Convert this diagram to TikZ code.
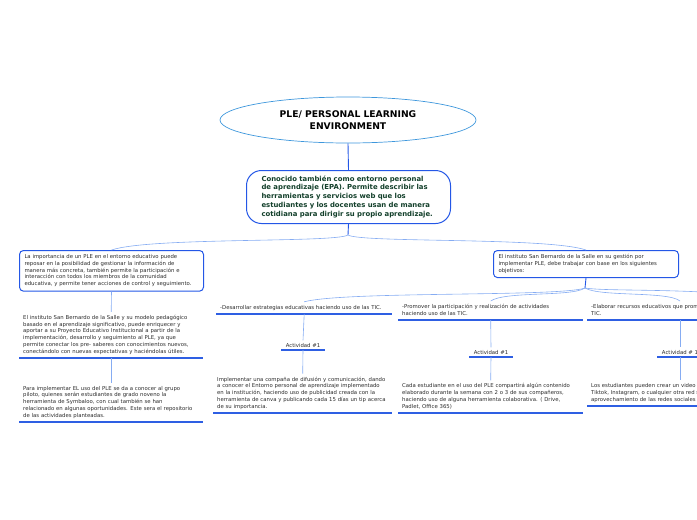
\documentclass[tikz,border=0pt]{standalone}
\usepackage{fontspec}
\setmainfont{DejaVu Sans}
\usetikzlibrary{shapes.geometric}
\definecolor{connc}{HTML}{86ACF2}
\definecolor{ulc}{HTML}{2E5FE3}
\definecolor{boxc}{HTML}{2457E6}
\definecolor{ellc}{HTML}{3E97DC}
\definecolor{txtc}{HTML}{2B2B2B}
\definecolor{gtxt}{HTML}{123F2A}
\newcommand\mylines[1]{\begin{tabular}{@{}l@{}}#1\end{tabular}}
\begin{document}
\begin{tikzpicture}[x=1pt,y=-1pt,
  conn/.style={draw=connc, line width=0.6pt},
  stem/.style={draw=boxc, line width=0.9pt},
  ul/.style={draw=ulc, line width=1.5pt},
  small/.style={font=\fontsize{5.35}{6.8}\selectfont, text=txtc},
  box/.style={small, draw=boxc, line width=1pt, rounded corners=4pt, align=left, inner xsep=5pt, anchor=north west},
  utext/.style={small, align=left, inner xsep=4pt, inner ysep=2.5pt, anchor=south west},
  act/.style={small, align=center, inner xsep=0pt, inner ysep=2.5pt, anchor=south}
]
\useasboundingbox (0,0) rectangle (697,520);
\clip (0,0) rectangle (697,520);

% title
\node[ellipse, draw=ellc, line width=0.7pt, minimum width=256pt, minimum height=46pt,
      font=\bfseries\fontsize{9.2}{12}\selectfont, align=center, text=black] (t) at (348,120)
  {PLE/ PERSONAL LEARNING\\ENVIRONMENT};

% central box
\node[draw=boxc, line width=1pt, rounded corners=15pt, anchor=north west,
      minimum width=204pt, minimum height=53pt, inner xsep=15pt, text width=174pt,
      align=left, font=\bfseries\fontsize{6.9}{8.8}\selectfont, text=gtxt] (c) at (246,170)
  {\mylines{Conocido también como entorno personal\\de aprendizaje (EPA). Permite describir las\\herramientas y servicios web que los\\estudiantes y los docentes usan de manera\\cotidiana para dirigir su propio aprendizaje.}};

\draw[stem] (t.south) -- (c.north);
\coordinate (cj) at (348,235);
\draw[stem] (c.south) -- (cj);

% left branch
\node[box, minimum width=184pt, minimum height=38pt, text width=174pt] (l1) at (19,250)
  {\mylines{La importancia de un PLE en el entorno educativo puede\\reposar en la posibilidad de gestionar la información de\\manera más concreta, también permite la participación e\\interacción con todos los miembros de la comunidad\\educativa, y permite tener acciones de control y seguimiento.}};
\node[utext, text width=176pt] (l2) at (19,358)
  {\mylines{El instituto San Bernardo de la Salle y su modelo pedagógico\\basado en el aprendizaje significativo, puede enriquecer y\\aportar a su Proyecto Educativo Institucional a partir de la\\implementación, desarrollo y seguimiento al PLE, ya que\\permite conectar los pre- saberes con conocimientos nuevos,\\conectándolo con nuevas expectativas y haciéndolas útiles.}};
\draw[ul] (l2.south west) -- (l2.south east);
\node[utext, text width=176pt] (l3) at (19,422)
  {\mylines{Para implementar EL uso del PLE se da a conocer al grupo\\piloto, quienes serán estudiantes de grado noveno la\\herramienta de Symbaloo, con cual también se han\\relacionado en algunas oportunidades. Este sera el repositorio\\de las actividades planteadas.}};
\draw[ul] (l3.south west) -- (l3.south east);

\draw[conn] (cj) .. controls (335,243) and (150,237) .. (l1.north);
\draw[conn] (l1.south) -- (l2.north);
\draw[conn] (l2.south) -- (l3.north);

% right branch
\node[box, minimum width=185pt, minimum height=26pt, text width=175pt] (r1) at (493,250)
  {\mylines{El instituto San Bernardo de la Salle en su gestión por\\implementar PLE, debe trabajar con base en los siguientes\\objetivos:}};
\draw[conn] (cj) .. controls (361,243) and (548,237) .. (r1.north);
\coordinate (rj) at (585,288);
\draw[stem] (r1.south) -- (rj);

% objective A
\node[utext, text width=168pt] (a1) at (216,314)
  {\mylines{-Desarrollar estrategias educativas haciendo uso de las TIC.}};
\draw[ul] (a1.south west) -- (a1.south east);
\node[act, minimum width=43pt] (a2) at (303,350) {Actividad \#1};
\draw[ul] (a2.south west) -- (a2.south east);
\node[utext, text width=171pt] (a3) at (213,413)
  {\mylines{Implementar una compaña de difusión y comunicación, dando\\a conocer el Entorno personal de aprendizaje implementado\\en la institución, haciendo uso de publicidad creada con la\\herramienta de canva y publicando cada 15 días un tip acerca\\de su importancia.}};
\draw[ul] (a3.south west) -- (a3.south east);
\draw[conn] (rj) .. controls (560,297) and (345,291) .. (a1.north);
\draw[conn] (a1.south) -- (a2.north);
\draw[conn] (a2.south) -- (a3.north);

% objective B
\node[utext, text width=177pt] (b1) at (398,320)
  {\mylines{-Promover la participación y realización de actividades\\haciendo uso de las TIC.}};
\draw[ul] (b1.south west) -- (b1.south east);
\node[act, minimum width=43pt] (b2) at (491,357) {Actividad \#1};
\draw[ul] (b2.south west) -- (b2.south east);
\node[utext, text width=177pt] (b3) at (398,413)
  {\mylines{Cada estudiante en el uso del PLE compartirá algún contenido\\elaborado durante la semana con 2 o 3 de sus compañeros,\\haciendo uso de alguna herramienta colaborativa. ( Drive,\\Padlet, Office 365)}};
\draw[ul] (b3.south west) -- (b3.south east);
\draw[conn] (rj) .. controls (572,297) and (505,291) .. (b1.north);
\draw[conn] (b1.south) -- (b2.north);
\draw[conn] (b2.south) -- (b3.north);

% objective C
\node[utext, text width=178pt] (c1) at (587,320)
  {\mylines{-Elaborar recursos educativos que promuevan el uso de las\\TIC.}};
\draw[ul] (c1.south west) -- (c1.south east);
\node[act, minimum width=45pt] (c2) at (680,357) {Actividad \# 1};
\draw[ul] (c2.south west) -- (c2.south east);
\node[utext, text width=178pt] (c3) at (587,406)
  {\mylines{Los estudiantes pueden crear un video en\\Tiktok, Instagram, o cualquier otra red social\\aprovechamiento de las redes sociales}};
\draw[ul] (c3.south west) -- (c3.south east);
\draw[conn] (rj) .. controls (600,297) and (668,291) .. (c1.north -| c2.north);
\draw[conn] (c1.south -| c2.north) -- (c2.north);
\draw[conn] (c2.south) -- (c3.north -| c2.south);

% further branch leaving the page
\coordinate (off) at (790,300);
\draw[conn] (rj) .. controls (610,292) and (700,287) .. (off);
\end{tikzpicture}
\end{document}
